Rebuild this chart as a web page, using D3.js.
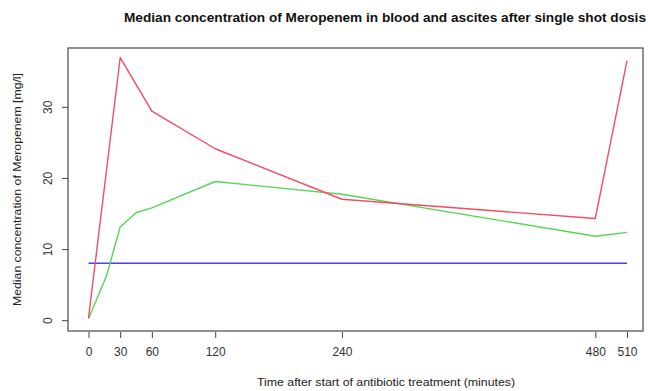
<!DOCTYPE html>
<html>
<head>
<meta charset="utf-8">
<script src="https://cdn.jsdelivr.net/npm/d3@7"></script>
<style>
  html, body { margin: 0; padding: 0; background: #fff; }
  svg { display: block; font-family: "Liberation Sans", Arial, sans-serif; }
</style>
</head>
<body>
<svg id="chart" width="648" height="391"></svg>
<script>
// ---- data ----
const titleText = "Median concentration of Meropenem in blood and ascites after single shot dosis";
const xLabel = "Time after start of antibiotic treatment  (minutes)";
const yLabel = "Median concentration of Meropenem [mg/l]";

const xTicks = [0, 30, 60, 120, 240, 480, 510];
const yTicks = [0, 10, 20, 30];

const bloodTimes = [0, 30, 60, 120, 240, 480, 510];
const bloodValues = [0.3, 36.9, 29.4, 24.1, 17.0, 14.3, 36.5];

const ascitesTimes = [0, 17, 30, 45, 60, 120, 240, 480, 510];
const ascitesValues = [0.2, 6.2, 13.1, 15.1, 15.8, 19.5, 17.7, 11.8, 12.35];

const micTimes = [0, 510];
const micValues = [8, 8];

// ---- layout ----
const svg = d3.select("#chart");
const box = { left: 68, right: 643, top: 48, bottom: 331 };

const x = d3.scaleLinear().domain([0, 510]).range([88.5, 627]);
const y = d3.scaleLinear().domain([0, 30]).range([320.2, 106.8]);

// title
svg.append("text")
  .attr("x", 124).attr("y", 22)
  .attr("font-weight", "bold").attr("font-size", 12.5)
  .attr("fill", "#111")
  .attr("textLength", 522).attr("lengthAdjust", "spacingAndGlyphs")
  .text(titleText);

// plot box
svg.append("rect")
  .attr("x", box.left).attr("y", box.top)
  .attr("width", box.right - box.left).attr("height", box.bottom - box.top)
  .attr("fill", "none").attr("stroke", "#555").attr("stroke-width", 1.3);

// x axis
const xAxis = d3.axisBottom(x).tickValues(xTicks).tickSize(6).tickPadding(9).tickFormat(d3.format("d"));
const gx = svg.append("g").attr("transform", `translate(0,${box.bottom + 1})`).call(xAxis);
gx.select(".domain").remove();
gx.selectAll(".tick line").attr("stroke", "#444");
gx.selectAll(".tick text").attr("font-size", 12).attr("fill", "#333")
  .attr("font-family", "Liberation Sans, Arial, sans-serif");

// y axis
const yAxis = d3.axisLeft(y).tickValues(yTicks).tickSize(6).tickPadding(6).tickFormat(d3.format("d"));
const gy = svg.append("g").attr("transform", `translate(${box.left},0)`).call(yAxis);
gy.select(".domain").remove();
gy.selectAll(".tick line").attr("stroke", "#444");
gy.selectAll(".tick text")
  .attr("font-size", 12).attr("fill", "#333")
  .attr("font-family", "Liberation Sans, Arial, sans-serif")
  .attr("x", null).attr("dy", null)
  .attr("text-anchor", "middle")
  .attr("transform", "translate(-16,0) rotate(-90)");

// axis titles
svg.append("text")
  .attr("x", 386).attr("y", 386)
  .attr("text-anchor", "middle").attr("font-size", 11.5).attr("fill", "#222")
  .attr("textLength", 258).attr("lengthAdjust", "spacingAndGlyphs")
  .text(xLabel);

svg.append("text")
  .attr("transform", `translate(21,${(box.top + box.bottom) / 2}) rotate(-90)`)
  .attr("text-anchor", "middle").attr("font-size", 11.5).attr("fill", "#222")
  .attr("textLength", 233).attr("lengthAdjust", "spacingAndGlyphs")
  .text(yLabel);

// lines
const line = d3.line().x(d => x(d[0])).y(d => y(d[1]));

function drawSeries(times, values, color) {
  svg.append("path")
    .datum(times.map((t, i) => [t, values[i]]))
    .attr("d", line)
    .attr("fill", "none")
    .attr("stroke", color)
    .attr("stroke-width", 1.4)
    .attr("stroke-linejoin", "round");
}

drawSeries(micTimes, micValues, "#4343f2");
drawSeries(ascitesTimes, ascitesValues, "#55d655");
drawSeries(bloodTimes, bloodValues, "#f54b63");
</script>
</body>
</html>
